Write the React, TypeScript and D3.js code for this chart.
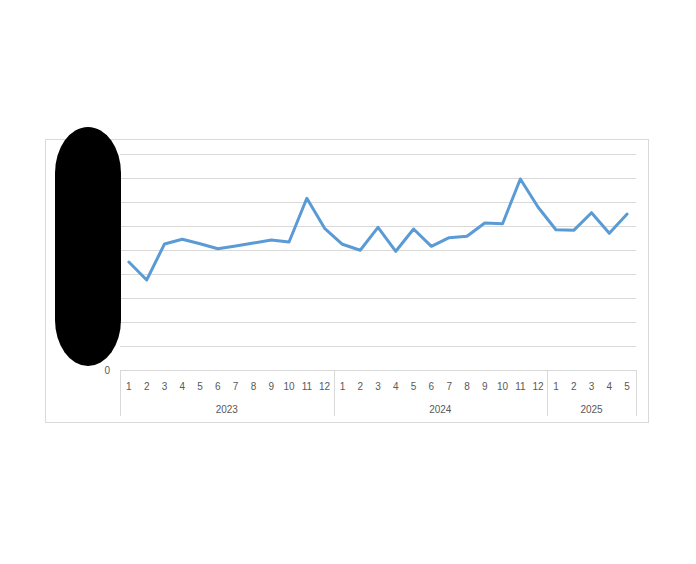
import React, { useEffect, useRef } from 'react';
import * as d3 from 'd3';

// monthly values, Jan 2023 .. May 2025
const years = ['2023', '2024', '2025'];
const monthsPerYear = [12, 12, 5];
const values = [
  2250000, 1875000, 2625000, 2723000, 2630000, 2527000, 2583000, 2646000, 2708000, 2667000, 3577000, 2952000,
  2619000, 2494000, 2973000, 2473000, 2938000, 2577000, 2756000, 2785000, 3063000, 3048000, 3979000, 3390000,
  2923000, 2910000, 3277000, 2848000, 3250000,
];
const yMax = 4500000;
const yStep = 500000;

type Point = { key: string; month: number; year: string; value: number };

const points: Point[] = [];
years.forEach((yr, i) => {
  for (let m = 1; m <= monthsPerYear[i]; m++) {
    points.push({ key: `${yr}-${m}`, month: m, year: yr, value: values[points.length] });
  }
});

const W = 696;
const H = 564;
const FONT = '"Liberation Sans", Arial, sans-serif';
const TEXT = '#595959';
const GRID = '#d9d9d9';

const App: React.FC = () => {
  const svgRef = useRef<SVGSVGElement>(null);

  useEffect(() => {
    if (!svgRef.current) return;
    const svg = d3.select(svgRef.current);
    svg.selectAll('*').remove();

    const plot = { left: 120, right: 636, top: 154, bottom: 370 };

    // chart frame
    svg
      .append('rect')
      .attr('x', 45.5)
      .attr('y', 139.5)
      .attr('width', 603)
      .attr('height', 283)
      .style('fill', '#fff')
      .style('stroke', GRID)
      .style('stroke-width', 1);

    const x = d3
      .scaleBand<string>()
      .domain(points.map((d) => d.key))
      .range([plot.left, plot.right])
      .padding(0);
    const y = d3.scaleLinear().domain([0, yMax]).range([plot.bottom, plot.top]);

    const ticks = d3.range(0, yMax + 1, yStep);

    // gridlines
    svg
      .append('g')
      .selectAll('line')
      .data(ticks.filter((t) => t > 0))
      .enter()
      .append('line')
      .attr('x1', plot.left)
      .attr('x2', plot.right)
      .attr('y1', (d) => Math.round(y(d)) + 0.5)
      .attr('y2', (d) => Math.round(y(d)) + 0.5)
      .style('stroke', GRID)
      .style('stroke-width', 1);

    // y tick labels
    svg
      .append('g')
      .selectAll('text')
      .data(ticks)
      .enter()
      .append('text')
      .attr('x', 110)
      .attr('y', (d) => y(d) + 3.5)
      .attr('text-anchor', 'end')
      .style('font-family', FONT)
      .style('font-size', '10px')
      .style('fill', TEXT)
      .text((d) => d3.format(',')(d));

    // category axis box
    const axis = svg.append('g');
    axis
      .append('line')
      .attr('x1', plot.left)
      .attr('x2', plot.right)
      .attr('y1', plot.bottom + 0.5)
      .attr('y2', plot.bottom + 0.5)
      .style('stroke', GRID);

    let start = 0;
    const bounds: number[] = [plot.left];
    years.forEach((yr, i) => {
      const first = points[start].key;
      const last = points[start + monthsPerYear[i] - 1].key;
      const x0 = x(first)!;
      const x1 = x(last)! + x.bandwidth();
      bounds.push(x1);
      axis
        .append('text')
        .attr('x', (x0 + x1) / 2)
        .attr('y', 413)
        .attr('text-anchor', 'middle')
        .style('font-family', FONT)
        .style('font-size', '10px')
        .style('fill', TEXT)
        .text(yr);
      start += monthsPerYear[i];
    });

    axis
      .selectAll('line.div')
      .data(bounds)
      .enter()
      .append('line')
      .attr('class', 'div')
      .attr('x1', (d) => Math.round(d) + 0.5)
      .attr('x2', (d) => Math.round(d) + 0.5)
      .attr('y1', plot.bottom)
      .attr('y2', 416)
      .style('stroke', GRID);

    axis
      .selectAll('text.month')
      .data(points)
      .enter()
      .append('text')
      .attr('class', 'month')
      .attr('x', (d) => x(d.key)! + x.bandwidth() / 2)
      .attr('y', 390)
      .attr('text-anchor', 'middle')
      .style('font-family', FONT)
      .style('font-size', '10px')
      .style('fill', TEXT)
      .text((d) => d.month);

    // series line
    const line = d3
      .line<Point>()
      .x((d) => x(d.key)! + x.bandwidth() / 2)
      .y((d) => y(d.value));

    svg
      .append('path')
      .datum(points)
      .attr('d', line)
      .style('fill', 'none')
      .style('stroke', '#5b9bd5')
      .style('stroke-width', 3)
      .style('stroke-linejoin', 'round')
      .style('stroke-linecap', 'round');

    // redaction blob over the value labels
    svg
      .append('rect')
      .attr('x', 55)
      .attr('y', 127)
      .attr('width', 66)
      .attr('height', 239)
      .attr('rx', 33)
      .attr('ry', 46)
      .style('fill', '#000');
  }, []);

  return (
    <div style={{ position: 'absolute', left: 0, top: 0, width: W, height: H, background: '#fff' }}>
      <svg ref={svgRef} width={W} height={H} />
    </div>
  );
};

export default App;
